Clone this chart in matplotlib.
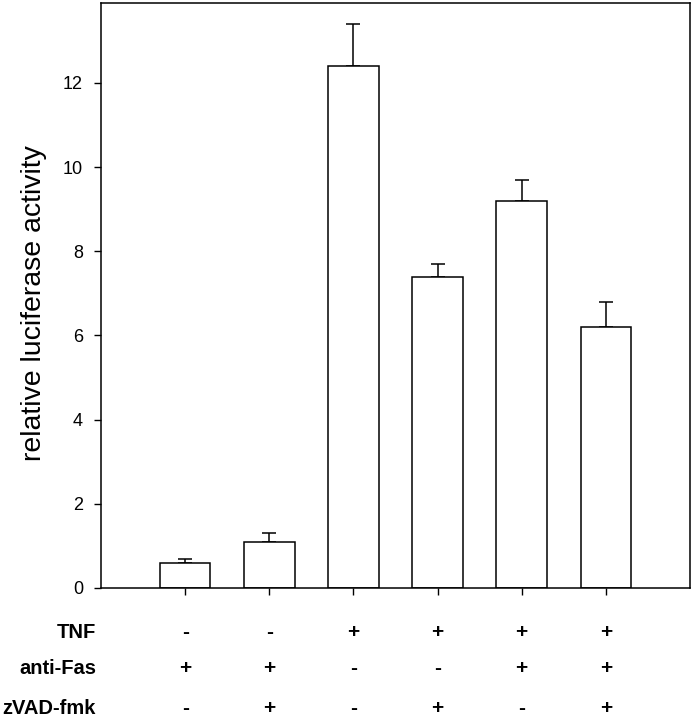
import matplotlib
matplotlib.use("Agg")
import matplotlib.pyplot as plt
import matplotlib.transforms as mtransforms

plt.rcParams['font.family'] = ['Liberation Sans', 'DejaVu Sans']

# Data
positions = [1, 2, 3, 4, 5, 6]
values = [0.6, 1.1, 12.4, 7.4, 9.2, 6.2]
errors = [0.1, 0.2, 1.0, 0.3, 0.5, 0.6]
row_names = ["TNF", "anti-Fas", "zVAD-fmk"]
tnf = ["-", "-", "+", "+", "+", "+"]
anti_fas = ["+", "+", "-", "-", "+", "+"]
zvad = ["-", "+", "-", "+", "-", "+"]
yticks = [0, 2, 4, 6, 8, 10, 12]

fig = plt.figure(figsize=(6.93, 7.19), dpi=100)
ax = fig.add_axes([101/693, 1 - 588/719, 589/693, 585/719])

ax.bar(positions, values, width=0.6, color='white', edgecolor='black', linewidth=1.1, zorder=2)
ax.errorbar(positions, values, yerr=[[0]*len(errors), errors], fmt='none',
            ecolor='black', elinewidth=1.1, capsize=5.2, capthick=1.1, zorder=1)

ax.set_xlim(0, 7)
ax.set_ylim(0, 13.9)
ax.set_yticks(yticks)
ax.set_yticklabels([str(t) for t in yticks])
ax.set_xticks(positions)
ax.set_xticklabels([])
ax.tick_params(axis='both', direction='out', length=5, width=1.0, labelsize=13, pad=8)
for s in ax.spines.values():
    s.set_linewidth(1.1)

ax.set_ylabel("relative luciferase activity", fontsize=20.5)
ax.yaxis.set_label_coords(-(101 - 47) / 589, 0.5 - 8 / 585)

trans = mtransforms.blended_transform_factory(ax.transData, fig.transFigure)
rows = [tnf, anti_fas, zvad]
row_y = [1 - 632/719, 1 - 668/719, 1 - 708/719]
for name, row, yy in zip(row_names, rows, row_y):
    fig.text(96/693, yy, name, ha='right', va='center', fontsize=14.5, fontweight='bold')
    for x, sym in zip(positions, row):
        ax.text(x, yy, sym, transform=trans, ha='center', va='center',
                fontsize=15, fontweight='bold', clip_on=False)

fig.savefig("out.png", dpi=100)
